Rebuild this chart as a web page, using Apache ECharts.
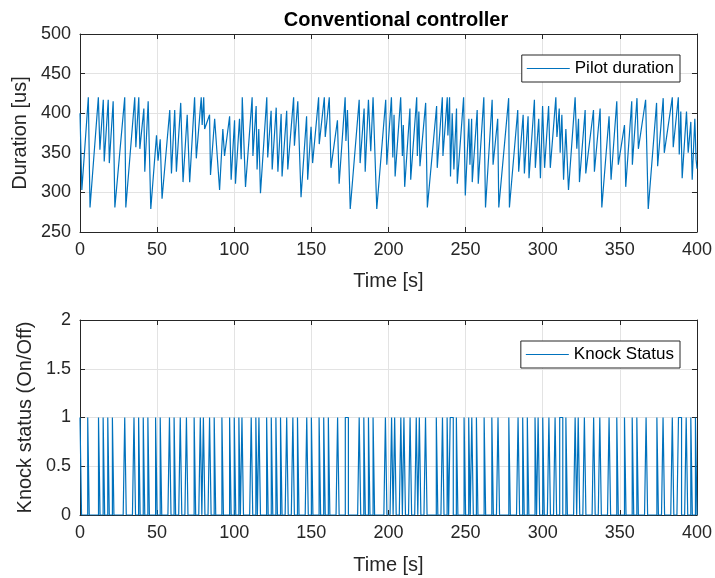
<!DOCTYPE html>
<html>
<head>
<meta charset="utf-8">
<script src="https://cdn.jsdelivr.net/npm/echarts@6/dist/echarts.min.js"></script>
<style>
  html, body { margin: 0; padding: 0; background: #fff; }
  #chart { width: 715px; height: 578px; }
</style>
</head>
<body>
<div id="chart"></div>
<script>
// Pilot injection duration (vertices of the logged trace)
const durTime = [
  0, 1.2, 5.4, 6.5, 11.9, 12.9, 15.1, 15.7, 18.3, 19.0, 21.5, 22.6, 29.0, 29.7, 35.5, 36.2, 38.1, 38.8, 41.4, 42.0,
  44.2, 45.9, 49.6, 50.6, 52.0, 53.2, 58.2, 59.3, 61.4, 62.5, 65.3, 66.8, 69.5, 71.1, 74.3, 75.4, 78.6, 79.2, 80.2, 80.8,
  84.0, 84.6, 87.3, 90.5, 92.6, 93.7, 97.0, 98.0, 100.2, 100.8,
  103.4, 104.5, 105.2, 107.3, 111.6, 112.1, 114.2, 114.8, 115.9, 117.0, 121.1, 121.7, 123.9, 124.6, 127.2, 128.3,
  130.4, 131.0, 134.0, 134.7, 138.5, 139.0, 141.2, 143.3, 146.9, 147.6, 149.8, 150.8, 154.7, 155.1, 158.4, 159.0,
  161.6, 162.7, 166.9, 168.0, 171.9, 172.4, 173.4, 175.2, 181.0, 181.6, 184.2, 184.9, 187.0, 188.5, 190.0, 192.4,
  198.2, 198.9,
  201.9, 202.8, 203.6, 204.3, 207.9, 209.0, 209.6, 210.5, 213.9, 214.4, 218.3, 218.7, 219.7, 220.4, 224.1, 225.2,
  231.2, 231.6, 234.9, 235.3, 238.1, 238.5, 239.6, 240.2, 241.3, 242.4, 244.1, 244.6, 248.7, 249.8, 252.1, 252.8,
  253.9, 254.3, 257.5, 258.2, 261.8, 262.9, 267.2, 267.8, 270.8, 271.5, 277.9, 278.4, 283.8, 284.4, 287.3, 288.1,
  290.5, 291.1, 294.6, 295.2, 297.4, 298.5,
  299.9, 301.2, 303.8, 304.9, 308.5, 309.2, 310.7, 311.3, 312.4, 313.5, 315.0, 316.7, 321.0, 322.1, 323.2, 323.8,
  327.5, 327.9, 332.9, 333.5, 337.2, 338.3, 343.0, 344.3, 348.0, 349.0, 353.0, 353.8, 357.7, 358.1, 361.1, 362.0,
  366.7, 368.4, 373.8, 374.5, 378.1, 378.8, 384.0, 384.6, 387.9, 388.5, 389.5, 390.4, 393.2, 394.3, 396.0, 396.9,
  398.6, 399.4, 400
];
const durValue = [
  400, 303, 420, 281, 420, 354, 417, 339, 417, 337, 415, 281, 420, 281, 420, 357, 420, 355, 406, 326,
  415, 279, 372, 340, 367, 292, 404, 324, 404, 326, 413, 313, 398, 313, 420, 343, 420, 385, 420, 380,
  398, 322, 393, 303, 380, 346, 396, 316, 391, 311,
  393, 342, 420, 307, 420, 346, 409, 329, 380, 299, 420, 344, 403, 329, 407, 326,
  399, 320, 403, 329, 420, 359, 415, 294, 396, 316, 383, 337, 420, 361, 420, 370,
  420, 331, 391, 311, 420, 365, 404, 279, 417, 337, 406, 326, 417, 352, 420, 279,
  417, 335,
  420, 344, 398, 320, 420, 346, 385, 307, 406, 316, 420, 346, 402, 333, 413, 281,
  409, 331, 420, 346, 420, 372, 420, 320, 400, 329, 406, 311, 420, 296, 393, 335,
  393, 313, 404, 311, 420, 281, 417, 335, 393, 281, 419, 281, 404, 326, 398, 324,
  396, 318, 417, 331, 393, 318,
  409, 331, 409, 331, 420, 370, 406, 350, 398, 316, 380, 303, 420, 355, 393, 313,
  404, 324, 404, 326, 406, 281, 396, 316, 415, 335, 385, 307, 415, 335, 419, 355,
  417, 279, 413, 333, 419, 350, 420, 357, 420, 348, 402, 318, 402, 350, 389, 316,
  393, 342, 330
];

// Seconds at which the knock detector reported a knock (status = 1)
const knockTimes = [
  0, 5, 12, 15, 18, 21, 29, 35, 38, 41, 44, 49, 52, 58, 61, 65, 69, 74, 78, 80, 84, 87, 92, 97, 100,
  103, 105, 111, 114, 116, 121, 124, 127, 130, 134, 138, 141, 147, 150, 155, 158, 161, 167, 172, 173,
  181, 184, 187, 190, 198, 202, 204, 208, 210, 214, 218, 220, 224, 231, 235, 238, 240, 241, 244, 249,
  252, 254, 257, 262, 267, 271, 278, 284, 287, 290, 295, 297, 300, 304, 308, 311, 312, 315, 321, 323,
  327, 333, 337, 343, 348, 353, 358, 361, 367, 374, 378, 384, 388, 389, 393, 396, 399
];
const simEnd = 400;

const titleText = 'Conventional controller';
const durName = 'Pilot duration';
const knockName = 'Knock Status';

// Build chart data from the arrays above
const durData = durTime.map((t, i) => [t, durValue[i]]);
const knockSet = new Set(knockTimes);
const knockData = [];
for (let t = 0; t <= simEnd; t++) knockData.push([t, knockSet.has(t) ? 1 : 0]);

const FONT = '"Liberation Sans", Arial, Helvetica, sans-serif';
const AX = '#262626';
const GRIDC = '#e3e3e3';
const BLUE = '#0072BD';

function xMain(gridIndex, gap) {
  return {
    type: 'value', gridIndex, min: 0, max: 400, interval: 50,
    name: 'Time [s]', nameLocation: 'middle', nameGap: gap,
    nameTextStyle: { fontSize: 20, color: AX, fontFamily: FONT },
    axisLine: { show: true, lineStyle: { color: AX, width: 1 } },
    axisTick: { show: true, inside: true, length: 5, lineStyle: { color: AX } },
    axisLabel: { fontSize: 18, color: AX, fontFamily: FONT, margin: 9 },
    splitLine: { show: true, lineStyle: { color: GRIDC, width: 1 } }
  };
}
function xTop(gridIndex) {
  return {
    type: 'value', gridIndex, min: 0, max: 400, interval: 50, position: 'top',
    axisLine: { show: true, onZero: false, lineStyle: { color: AX, width: 1 } },
    axisTick: { show: true, inside: true, length: 5, lineStyle: { color: AX } },
    axisLabel: { show: false }, splitLine: { show: false }
  };
}
function yMain(gridIndex, min, max, interval, name, gap) {
  return {
    type: 'value', gridIndex, min, max, interval,
    name, nameLocation: 'middle', nameGap: gap,
    nameTextStyle: { fontSize: 20, color: AX, fontFamily: FONT },
    axisLine: { show: true, onZero: false, lineStyle: { color: AX, width: 1 } },
    axisTick: { show: true, inside: true, length: 5, lineStyle: { color: AX } },
    axisLabel: { fontSize: 18, color: AX, fontFamily: FONT, margin: 9 },
    splitLine: { show: true, lineStyle: { color: GRIDC, width: 1 } }
  };
}
function yRight(gridIndex, min, max, interval) {
  return {
    type: 'value', gridIndex, min, max, interval, position: 'right',
    axisLine: { show: true, onZero: false, lineStyle: { color: AX, width: 1 } },
    axisTick: { show: true, inside: true, length: 5, lineStyle: { color: AX } },
    axisLabel: { show: false }, splitLine: { show: false }
  };
}
function legendBox(name, top, right) {
  return {
    data: [{ name, icon: 'rect' }], right, top,
    borderColor: AX, borderWidth: 1, borderRadius: 0, backgroundColor: '#fff',
    padding: [5, 6, 5, 5], itemWidth: 43, itemHeight: 1.2, itemGap: 5,
    textStyle: { fontSize: 17, color: '#000', fontFamily: FONT },
    selectedMode: false
  };
}

const chart = echarts.init(document.getElementById('chart'), null, { renderer: 'canvas' });
chart.setOption({
  animation: false,
  backgroundColor: '#fff',
  title: {
    text: titleText, left: 391, top: 5, textAlign: 'center',
    textStyle: { fontSize: 20, fontWeight: 'bold', color: '#000', fontFamily: FONT }
  },
  legend: [legendBox(durName, 55, 35), legendBox(knockName, 341, 35)],
  grid: [
    { left: 80, top: 34, width: 618, height: 198 },
    { left: 80, top: 320, width: 618, height: 195 }
  ],
  xAxis: [xMain(0, 39), xTop(0), xMain(1, 40), xTop(1)],
  yAxis: [
    yMain(0, 250, 500, 50, 'Duration [us]', 44), yRight(0, 250, 500, 50),
    yMain(1, 0, 2, 0.5, 'Knock status (On/Off)', 41), yRight(1, 0, 2, 0.5)
  ],
  series: [
    {
      name: durName, type: 'line', xAxisIndex: 0, yAxisIndex: 0,
      data: durData, symbol: 'none', lineStyle: { color: BLUE, width: 1.2 },
      itemStyle: { color: BLUE }
    },
    {
      name: knockName, type: 'line', xAxisIndex: 2, yAxisIndex: 2,
      data: knockData, step: 'end', symbol: 'none', lineStyle: { color: BLUE, width: 1.2 },
      itemStyle: { color: BLUE }
    }
  ]
});
</script>
</body>
</html>
